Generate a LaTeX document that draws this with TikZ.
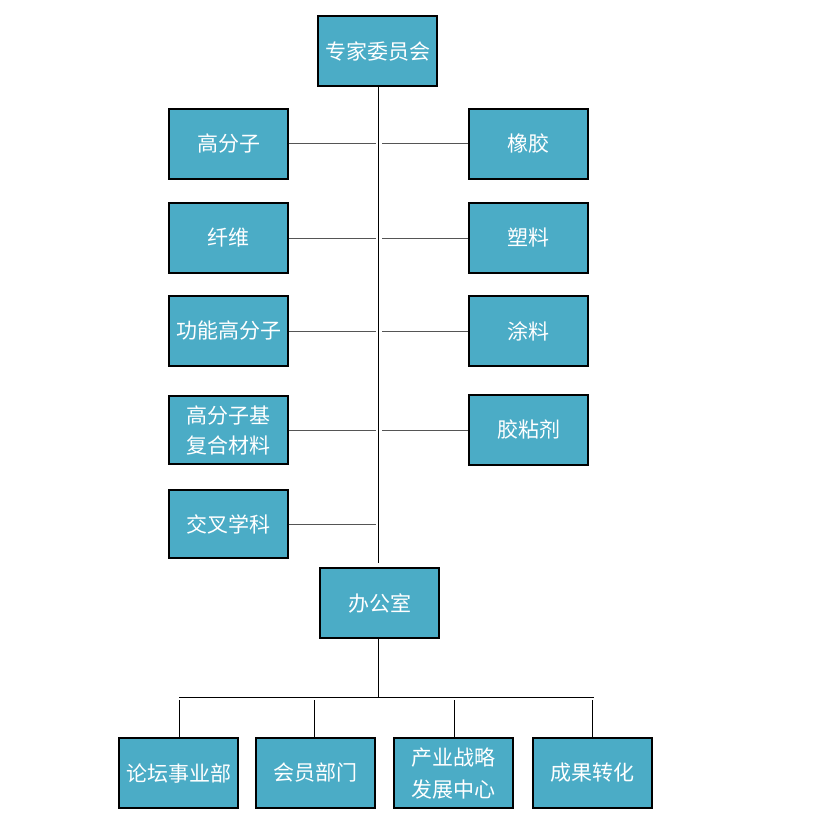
\documentclass[tikz,border=0pt]{standalone}
\usepackage{fontspec}
\setmainfont{Noto Sans CJK SC}
\definecolor{boxblue}{HTML}{4BACC6}
\definecolor{linkgray}{HTML}{555555}
\begin{document}
\begin{tikzpicture}[x=1pt,y=-1pt,
  orgbox/.style={draw=black, line width=1.1pt, fill=boxblue, text=white,
    minimum width=119pt, minimum height=70pt, inner sep=0pt, align=center,
    font=\fontsize{21}{30}\selectfont},
  trunk/.style={draw=black, line width=1pt},
  branch/.style={draw=linkgray, line width=1pt}]
\useasboundingbox (0,0) rectangle (834,837);
\fill[white] (0,0) rectangle (834,837);

\node[orgbox] (top) at (377.5,51) {专家委员会};

\node[orgbox] (l1) at (228.5,144) {高分子};
\node[orgbox] (l2) at (228.5,238) {纤维};
\node[orgbox] (l3) at (228.5,331) {功能高分子};
\node[orgbox, minimum height=68pt] (l4) at (228.5,430) {高分子基\\复合材料};
\node[orgbox, minimum height=68pt] (l5) at (228.5,524) {交叉学科};

\node[orgbox] (r1) at (528.5,144) {橡胶};
\node[orgbox] (r2) at (528.5,238) {塑料};
\node[orgbox] (r3) at (528.5,331) {涂料};
\node[orgbox] (r4) at (528.5,430) {胶粘剂};

\node[orgbox] (office) at (379.5,603) {办公室};

\node[orgbox] (b1) at (178.5,773) {论坛事业部};
\node[orgbox] (b2) at (315.5,773) {会员部门};
\node[orgbox, font=\fontsize{21}{32}\selectfont] (b3) at (453.5,773) {产业战略\\发展中心};
\node[orgbox] (b4) at (592.5,773) {成果转化};

% trunk
\coordinate (tend) at (378,563);
\draw[trunk] (top.south -| tend) -- (tend);

% branches
\foreach \n in {l1,l2,l3,l4,l5}{
  \coordinate (\n j) at (376,0);
  \draw[branch] (\n.east) -- (\n.east -| \n j);
}
\foreach \n in {r1,r2,r3,r4}{
  \coordinate (\n j) at (382,0);
  \draw[branch] (\n.west -| \n j) -- (\n.west);
}

% office tree
\coordinate (busl) at (179,697);
\coordinate (busr) at (594,697);
\coordinate (busm) at (378,697);
\draw[trunk] (office.south -| busm) -- (busm);
\draw[trunk] (busl) -- (busr);
\foreach \n/\x in {b1/179,b2/314,b3/454,b4/592}{
  \coordinate (\n t) at (\x,700);
  \draw[trunk] (\n t) -- (\n t |- \n.north);
}
\end{tikzpicture}
\end{document}
